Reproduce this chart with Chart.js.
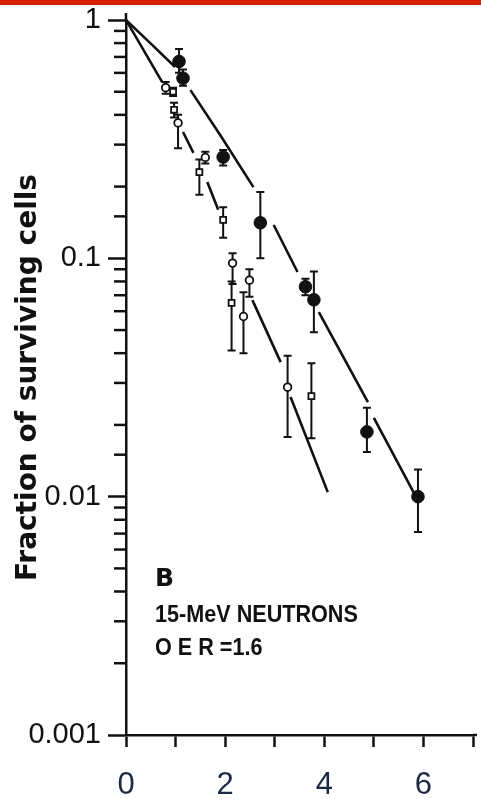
<!DOCTYPE html>
<html>
<head>
<meta charset="utf-8">
<script src="https://cdn.jsdelivr.net/npm/chart.js@4.4.1/dist/chart.umd.min.js"></script>
<style>
  html, body { margin: 0; padding: 0; background: #fff; }
  #wrap { position: relative; width: 481px; height: 799px; }
  #topbar { position: absolute; left: 0; top: 0; width: 481px; height: 5px; background: #d62000; }
</style>
</head>
<body>
<div id="wrap"><canvas id="myChart"></canvas></div>
<div id="topbar"></div>
<script>
// filled symbols: dose (Gy), surviving fraction, error bar ends
let doseFilled  = [1.07, 1.15, 1.96, 2.71, 3.62, 3.79, 4.86, 5.89];
let survFilled  = [0.67, 0.57, 0.266, 0.141, 0.076, 0.067, 0.0187, 0.010];
let loFilled    = [0.60, 0.53, 0.245, 0.10, 0.070, 0.049, 0.0154, 0.0071];
let hiFilled    = [0.755, 0.62, 0.285, 0.19, 0.082, 0.088, 0.0236, 0.013];

// open circles
let doseCircle = [0.80, 1.05, 1.60, 2.15, 2.37, 2.49, 3.26];
let survCircle = [0.52, 0.37, 0.265, 0.0955, 0.057, 0.081, 0.0288];
let loCircle   = [0.49, 0.29, 0.25, 0.078, 0.040, 0.069, 0.0178];
let hiCircle   = [0.55, 0.40, 0.28, 0.105, 0.072, 0.090, 0.039];

// open squares
let doseSquare = [0.95, 0.97, 1.48, 1.96, 2.13, 3.74];
let survSquare = [0.50, 0.42, 0.23, 0.145, 0.065, 0.0264];
let loSquare   = [0.48, 0.39, 0.185, 0.122, 0.041, 0.0176];
let hiSquare   = [0.52, 0.45, 0.26, 0.164, 0.080, 0.0363];

// fitted curves, null = break in the drawn line
let upperCurveDose = [0, 0.49, 0.99, 1.1, 1.30, 1.90, 2.57, 2.8, 2.98, 3.46, 3.7, 3.89, 4.88, 4.95, 5.0, 5.81];
let upperCurveSurv = [1, 0.80, 0.635, null, 0.508, 0.329, 0.199, null, 0.138, 0.0876, null, 0.0595, 0.0249, null, 0.0214, 0.01035];
let lowerCurveDose = [0, 0.73, 0.9, 1.15, 1.36, 1.5, 1.64, 1.86, 2.2, 2.55, 3.12, 3.2, 3.32, 4.07];
let lowerCurveSurv = [1, 0.549, null, 0.339, 0.277, null, 0.209, 0.160, null, 0.0668, 0.0367, null, 0.0262, 0.01045];

// axis labels
let xTickValues = [0, 2, 4, 6];
let yTickValues = [1, 0.1, 0.01, 0.001];
let yTickLabels = ['1', '0.1', '0.01', '0.001'];

const INK = '#111';

function pts(xs, ys){
  return xs.map((x, i) => ({x: x, y: ys[i]}));
}

function isDecade(v){
  const l = Math.log10(v);
  return Math.abs(l - Math.round(l)) < 1e-6;
}

const errorBars = {
  id: 'errorBars',
  beforeDatasetsDraw(chart){
    const ctx = chart.ctx;
    const xs = chart.scales.x, ys = chart.scales.y;
    const sets = [
      [doseFilled, loFilled, hiFilled],
      [doseCircle, loCircle, hiCircle],
      [doseSquare, loSquare, hiSquare]
    ];
    ctx.save();
    ctx.strokeStyle = INK;
    ctx.lineWidth = 2;
    sets.forEach(function(s){
      s[0].forEach(function(d, i){
        const px = xs.getPixelForValue(d);
        const y1 = ys.getPixelForValue(s[1][i]);
        const y2 = ys.getPixelForValue(s[2][i]);
        ctx.beginPath();
        ctx.moveTo(px, y1); ctx.lineTo(px, y2);
        ctx.moveTo(px - 4, y1); ctx.lineTo(px + 4, y1);
        ctx.moveTo(px - 4, y2); ctx.lineTo(px + 4, y2);
        ctx.stroke();
      });
    });
    ctx.restore();
  }
};

// short ticks for 2..9 on the log axis, axis stubs, and the panel text
const extras = {
  id: 'extras',
  afterDraw(chart){
    const ctx = chart.ctx;
    const ys = chart.scales.y;
    const area = chart.chartArea;
    const left = area.left;
    ctx.save();
    ctx.strokeStyle = INK;
    ctx.lineWidth = 2.5;
    ys.ticks.forEach(function(t){
      if (isDecade(t.value)) return;
      const py = ys.getPixelForValue(t.value);
      ctx.beginPath();
      ctx.moveTo(left - 12, py); ctx.lineTo(left, py);
      ctx.stroke();
    });
    ctx.beginPath();
    ctx.moveTo(left, area.top - 7); ctx.lineTo(left, area.top);
    ctx.moveTo(area.right, area.bottom); ctx.lineTo(area.right + 4, area.bottom);
    ctx.stroke();

    ctx.fillStyle = INK;
    ctx.textBaseline = 'alphabetic';
    ctx.font = 'bold 25px "DejaVu Sans"';
    ctx.fillText('B', left + 29, 586);
    ctx.font = 'bold 24px "Liberation Sans"';
    ctx.translate(left + 29, 0);
    ctx.scale(0.9, 1);
    ctx.fillText('15-MeV NEUTRONS', 0, 622);
    ctx.fillText('O E R =1.6', 0, 655);
    ctx.restore();
  }
};

function draw_chart(){
  new Chart('myChart', {
    type: 'scatter',
    data: {
      datasets: [
        {
          type: 'line',
          data: pts(upperCurveDose, upperCurveSurv),
          borderColor: INK, borderWidth: 2.6,
          pointRadius: 0, spanGaps: false, tension: 0
        },
        {
          type: 'line',
          data: pts(lowerCurveDose, lowerCurveSurv),
          borderColor: INK, borderWidth: 2.6,
          pointRadius: 0, spanGaps: false, tension: 0
        },
        {
          label: 'filled',
          data: pts(doseFilled, survFilled),
          pointStyle: 'circle', pointRadius: 6.3,
          backgroundColor: INK, borderColor: INK, borderWidth: 1
        },
        {
          label: 'open circle',
          data: pts(doseCircle, survCircle),
          pointStyle: 'circle', pointRadius: 3.8,
          backgroundColor: '#fff', borderColor: INK, borderWidth: 1.8
        },
        {
          label: 'open square',
          data: pts(doseSquare, survSquare),
          pointStyle: 'rect', pointRadius: 4.2,
          backgroundColor: '#fff', borderColor: INK, borderWidth: 1.8
        }
      ]
    },
    options: {
      responsive: false,
      animation: false,
      layout: { padding: { top: 20, right: 8, bottom: 0, left: 0 } },
      plugins: { legend: { display: false }, tooltip: { enabled: false } },
      scales: {
        x: {
          type: 'linear', min: 0, max: 7,
          afterFit(scale){
            scale.height = 64;
            scale.paddingLeft = 0;
            scale.paddingRight = 0;
          },
          border: { color: INK, width: 2.5 },
          grid: { drawOnChartArea: false, tickLength: 12, tickWidth: 2.5, tickColor: INK },
          ticks: {
            stepSize: 1, padding: 20, autoSkip: false, maxRotation: 0,
            color: '#1e2a44',
            font: { family: '"Liberation Sans", Arial, sans-serif', size: 31 },
            callback: v => xTickValues.includes(v) ? String(v) : ''
          }
        },
        y: {
          type: 'logarithmic', min: 0.001, max: 1,
          afterFit(scale){
            scale.width = 126;
            scale.paddingTop = 0;
            scale.paddingBottom = 0;
          },
          border: { color: INK, width: 2.5 },
          grid: {
            drawOnChartArea: false, tickLength: 18, tickWidth: 2.5,
            tickColor: c => (c.tick && isDecade(c.tick.value)) ? INK : 'rgba(0,0,0,0)'
          },
          ticks: {
            autoSkip: false, padding: 7, color: INK,
            font: { family: '"Liberation Sans", Arial, sans-serif', size: 29 },
            callback: function(v){
              const k = yTickValues.findIndex(t => Math.abs(Math.log10(t) - Math.log10(v)) < 1e-6);
              return k >= 0 ? yTickLabels[k] : '';
            }
          },
          title: {
            display: true, text: 'Fraction of surviving cells', color: INK,
            font: { family: '"DejaVu Sans", sans-serif', size: 28, weight: 'bold' },
            padding: { top: 12, bottom: 0 }
          }
        }
      }
    },
    plugins: [errorBars, extras]
  });
}

const cv = document.getElementById('myChart');
cv.width = 481; cv.height = 799;
cv.style.width = '481px'; cv.style.height = '799px';
draw_chart();
</script>
</body>
</html>
